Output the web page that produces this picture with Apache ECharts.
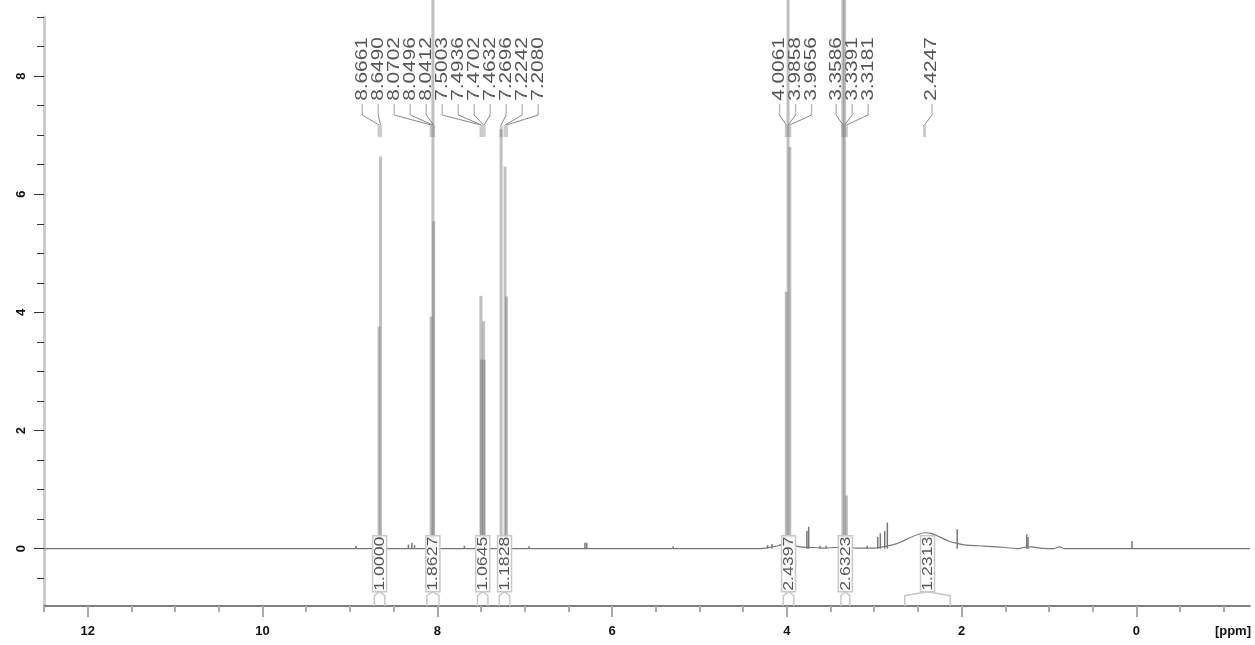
<!DOCTYPE html>
<html><head><meta charset="utf-8">
<script src="https://cdn.jsdelivr.net/npm/echarts@6/dist/echarts.min.js"></script>
<style>html,body{margin:0;padding:0;background:#fff}#c{width:1255px;height:645px}</style>
</head><body><div id="c"></div>
<script>
// ---- data ----
const xMajorTicks = [12, 10, 8, 6, 4, 2, 0];
const xMinorTicks = [12.5,12,11.5,11,10.5,10,9.5,9,8.5,8,7.5,7,6.5,6,5.5,5,4.5,4,3.5,3,2.5,2,1.5,1,0.5,0,-0.5,-1];
const yMajorTicks = [0, 2, 4, 6, 8];
const yMinorTicks = [-0.5,0,0.5,1,1.5,2,2.5,3,3.5,4,4.5,5,5.5,6,6.5,7,7.5,8,8.5,9];

// labelled peaks (ppm, intensity)
const peakPpm    = [8.6661, 8.6490, 8.0702, 8.0496, 8.0412, 7.5003, 7.4936, 7.4702, 7.4632, 7.2696, 7.2242, 7.2080, 4.0061, 3.9858, 3.9656, 3.3586, 3.3391, 3.3181];
const peakHeight = [3.76,   6.64,   3.93,   30,     5.54,   4.28,   3.20,   3.85,   3.20,   7.10,   6.47,   4.27,   4.35,   30,     6.80,   30,     20,     0.90];

// peak label texts
const labelText = ['8.6661','8.6490','8.0702','8.0496','8.0412','7.5003','7.4936','7.4702','7.4632','7.2696','7.2242','7.2080','4.0061','3.9858','3.9656','3.3586','3.3391','3.3181','2.4247'];

// small impurity / noise peaks
const minorPpm    = [8.93, 8.33, 8.29, 8.26, 7.69, 6.95, 6.31, 6.29, 5.30, 4.22, 4.17, 3.77, 3.75, 3.62, 3.55, 3.08, 2.96, 2.93, 2.88, 2.85, 2.05, 1.255, 1.24, 0.05];
const minorHeight = [0.05, 0.07, 0.10, 0.06, 0.05, 0.04, 0.10, 0.10, 0.04, 0.06, 0.08, 0.30, 0.37, 0.05, 0.05, 0.05, 0.20, 0.26, 0.30, 0.44, 0.33, 0.24,  0.20, 0.13];

// continuous baseline (incl. broad hump near 2.42 ppm)
const basePpm = [12.5, 4.35, 4.25, 4.10, 4.00, 3.95, 3.85, 3.70, 3.60, 3.45, 3.30, 3.20, 3.00, 2.90, 2.80, 2.70, 2.60, 2.50, 2.42, 2.35, 2.25, 2.15, 2.05, 1.95, 1.80, 1.70, 1.50, 1.35, 1.30, 1.20, 1.10, 0.95, 0.88, 0.82, -1.3];
const baseVal = [0,    0,    0.01, 0.05, 0.10, 0.08, 0.03, 0.02, 0.01, 0.02, 0.03, 0.01, 0.01, 0.03, 0.06, 0.11, 0.18, 0.24, 0.27, 0.26, 0.20, 0.13, 0.09, 0.06, 0.05, 0.04, 0.02, 0.00, 0.02, 0.03, 0.01, 0.00, 0.03, 0.00, 0];

// integrals
const integralFrom = [8.72, 8.12, 7.54, 7.29, 4.04, 3.38, 2.65];
const integralTo   = [8.60, 7.98, 7.42, 7.17, 3.92, 3.28, 2.13];
const integralText = ['1.0000', '1.8627', '1.0645', '1.1828', '2.4397', '2.6323', '1.2313'];

// ---- chart ----
const chart = echarts.init(document.getElementById('c'), null, {renderer: 'canvas'});
const FONT = '"Liberation Sans", Arial, sans-serif';

function layoutLabels(xs, gap) {
  let cl = xs.map((x, i) => ({idx: [i], lo: x, hi: x}));
  const c = k => (k.lo + k.hi) / 2;
  let changed = true;
  while (changed) {
    changed = false;
    for (let i = 0; i < cl.length - 1; i++) {
      const a = cl[i], b = cl[i + 1];
      const aEnd = c(a) + (a.idx.length - 1) / 2 * gap;
      const bStart = c(b) - (b.idx.length - 1) / 2 * gap;
      if (bStart - aEnd < gap) {
        cl.splice(i, 2, {idx: a.idx.concat(b.idx), lo: Math.min(a.lo, b.lo), hi: Math.max(a.hi, b.hi)});
        changed = true; break;
      }
    }
  }
  const out = [];
  cl.forEach(k => k.idx.forEach((id, j) => { out[id] = c(k) + (j - (k.idx.length - 1) / 2) * gap; }));
  return out;
}

const labelPpm = labelText.map(Number);

const option = {
  animation: false,
  backgroundColor: '#fff',
  grid: {left: 44, right: 5, top: 17, bottom: 39, containLabel: false},
  xAxis: [{
    type: 'value', min: -1.3, max: 12.5, inverse: true, position: 'bottom',
    axisLine: {show: true, onZero: false, lineStyle: {color: '#555', width: 1.5}},
    axisTick: {show: true, customValues: xMajorTicks, length: 11, lineStyle: {color: '#aaa', width: 2}},
    axisLabel: {show: true, customValues: xMajorTicks, margin: 19, color: '#111', fontWeight: 'bold', fontSize: 13, fontFamily: FONT},
    splitLine: {show: false}
  }, {
    type: 'value', min: -1.3, max: 12.5, inverse: true, position: 'bottom',
    axisLine: {show: false, onZero: false},
    axisTick: {show: true, customValues: xMinorTicks, length: 6, lineStyle: {color: '#aaa', width: 2}},
    axisLabel: {show: false},
    splitLine: {show: false}
  }],
  yAxis: [{
    type: 'value', min: -0.97, max: 9,
    axisLine: {show: true, onZero: false, lineStyle: {color: '#ccc', width: 3}},
    axisTick: {show: true, customValues: yMajorTicks, length: 10, lineStyle: {color: '#333', width: 1}},
    axisLabel: {show: true, customValues: yMajorTicks, rotate: 90, margin: 16, color: '#111', fontWeight: 'bold', fontSize: 13, fontFamily: FONT},
    splitLine: {show: false}
  }, {
    type: 'value', min: -0.97, max: 9, position: 'left',
    axisLine: {show: false, onZero: false},
    axisTick: {show: true, customValues: yMinorTicks, length: 7, lineStyle: {color: '#333', width: 1}},
    axisLabel: {show: false},
    splitLine: {show: false}
  }],
  graphic: [{type: 'text', right: 4, top: 625, style: {text: '[ppm]', font: 'bold 13px ' + FONT, fill: '#111'}}],
  series: [
    {
      type: 'line', data: basePpm.map((p, i) => [p, baseVal[i]]), showSymbol: false, smooth: 0.3,
      lineStyle: {color: '#777', width: 1.2}, z: 2
    },
    {
      type: 'custom', clip: false, z: 3,
      data: labelPpm.map(p => [p, 0]),
      encode: {x: 0, y: 1},
      renderItem: (params, api) => {
        const i = params.dataIndex;
        const xs = labelPpm.map(p => api.coord([p, 0])[0]);
        const lx = layoutLabels(xs, 16)[i] + 7.5;
        const px = xs[i];
        return {type: 'group', children: [
          {type: 'text', x: lx, y: 69, rotation: Math.PI / 2, scaleX: 1.3,
           style: {text: labelText[i], font: '16px ' + FONT, fill: '#555', align: 'center', verticalAlign: 'middle'}},
          {type: 'line', shape: {x1: lx, y1: 104, x2: lx, y2: 115}, style: {stroke: '#bbb', lineWidth: 1.5}},
          {type: 'line', shape: {x1: lx, y1: 115, x2: px, y2: 125}, style: {stroke: '#888', lineWidth: 1}},
          {type: 'line', shape: {x1: px, y1: 125, x2: px, y2: 137}, style: {stroke: '#ccc', lineWidth: 3}}
        ]};
      }
    },
    {
      type: 'custom', clip: false, z: 4,
      data: minorPpm.map((p, i) => [p, minorHeight[i]]),
      encode: {x: 0, y: 1},
      renderItem: (params, api) => {
        const t = api.coord([api.value(0), api.value(1)]);
        const b = api.coord([api.value(0), 0]);
        return {type: 'line', shape: {x1: t[0], y1: t[1], x2: b[0], y2: b[1]}, style: {stroke: '#777', lineWidth: 1.5}};
      }
    },
    {
      type: 'custom', clip: false, z: 5,
      data: peakPpm.map((p, i) => [p, peakHeight[i]]),
      encode: {x: 0, y: 1},
      renderItem: (params, api) => {
        const t = api.coord([api.value(0), api.value(1)]);
        const b = api.coord([api.value(0), 0]);
        return {type: 'line', shape: {x1: t[0], y1: t[1], x2: b[0], y2: b[1]}, style: {stroke: 'rgba(115,115,115,0.45)', lineWidth: 3}};
      }
    },
    {
      type: 'custom', clip: false, z: 6,
      data: integralText.map((t, i) => [(integralFrom[i] + integralTo[i]) / 2, 0]),
      encode: {x: 0, y: 1},
      renderItem: (params, api) => {
        const i = params.dataIndex;
        const c = api.coord([api.value(0), 0]);
        const fx = api.coord([integralFrom[i], 0])[0];
        const tx = api.coord([integralTo[i], 0])[0];
        const axisY = api.coord([0, -0.97])[1];
        const y0 = c[1];
        const cx = c[0];
        const boxTop = y0 - 13, boxBot = y0 + 43;
        return {type: 'group', children: [
          {type: 'polyline', shape: {points: [[fx, axisY], [fx, boxBot + 4], [cx, boxBot]]}, style: {stroke: '#c8c8c8', lineWidth: 1.5, fill: null}},
          {type: 'polyline', shape: {points: [[tx, axisY], [tx, boxBot + 4], [cx, boxBot]]}, style: {stroke: '#c8c8c8', lineWidth: 1.5, fill: null}},
          {type: 'rect', shape: {x: cx - 7, y: boxTop, width: 14, height: boxBot - boxTop}, style: {fill: 'rgba(255,255,255,0.9)', stroke: '#c8c8c8', lineWidth: 1.5}},
          {type: 'text', x: cx, y: (boxTop + boxBot) / 2, rotation: Math.PI / 2, scaleX: 1.18,
           style: {text: integralText[i], font: '15px ' + FONT, fill: '#555', align: 'center', verticalAlign: 'middle'}}
        ]};
      }
    }
  ]
};
chart.setOption(option);
</script>
</body></html>
